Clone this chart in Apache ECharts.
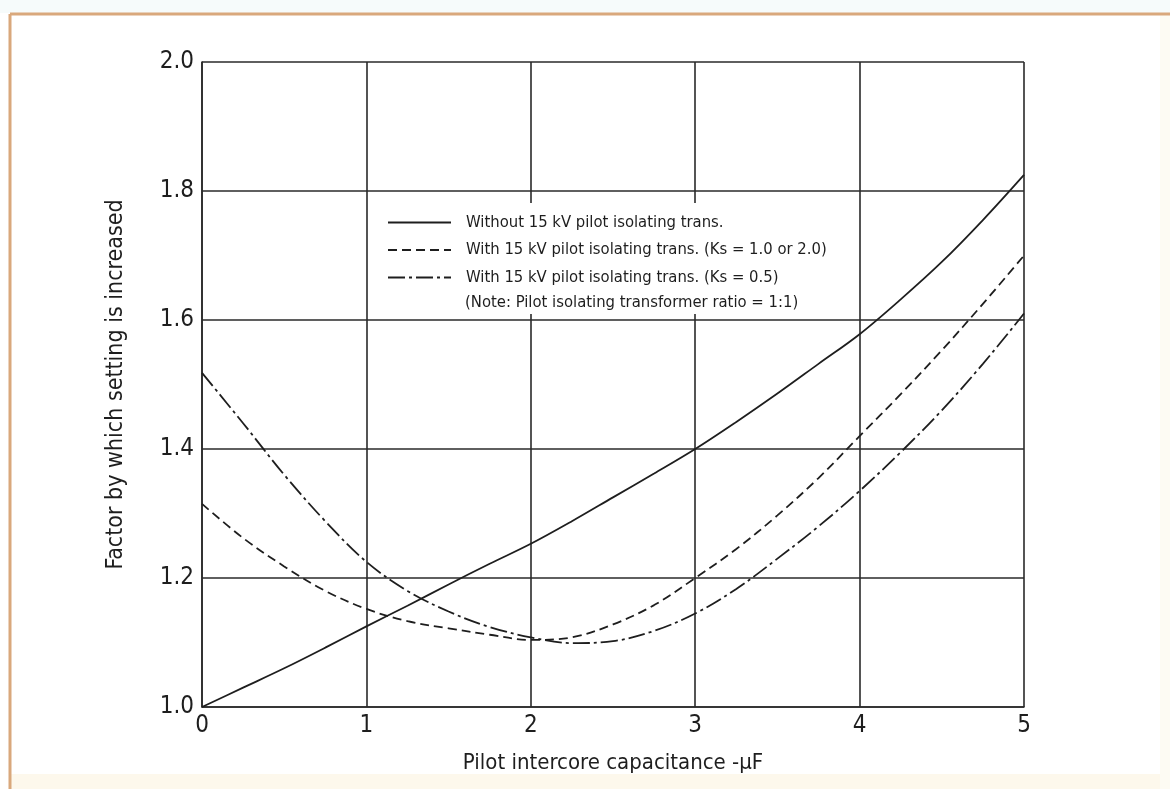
<!DOCTYPE html>
<html>
<head>
<meta charset="utf-8">
<script src="https://cdn.jsdelivr.net/npm/echarts@6/dist/echarts.min.js"></script>
<style>
  html, body { margin: 0; padding: 0; background: #ffffff; }
  #chart { width: 1170px; height: 789px; }
</style>
</head>
<body>
<div id="chart"></div>
<script>
// Pilot intercore capacitance (µF)
const capacitance = [0, 0.25, 0.5, 0.75, 1, 1.25, 1.5, 1.75, 2, 2.25, 2.5, 2.75, 3, 3.25, 3.5, 3.75, 4, 4.25, 4.5, 4.75, 5];

// Factor by which setting is increased
const withoutTrans = [1.000, 1.030, 1.060, 1.092, 1.125, 1.157, 1.190, 1.222, 1.253, 1.288, 1.325, 1.362, 1.400, 1.442, 1.486, 1.532, 1.578, 1.632, 1.690, 1.755, 1.825];
const withTransKs1 = [1.315, 1.262, 1.218, 1.180, 1.152, 1.133, 1.122, 1.112, 1.104, 1.108, 1.128, 1.158, 1.200, 1.245, 1.297, 1.355, 1.420, 1.485, 1.553, 1.625, 1.700];
const withTransKs05 = [1.518, 1.440, 1.360, 1.288, 1.225, 1.180, 1.148, 1.124, 1.108, 1.099, 1.102, 1.118, 1.145, 1.183, 1.230, 1.280, 1.335, 1.395, 1.460, 1.532, 1.610];

const seriesNames = [
  'Without 15 kV pilot isolating trans.',
  'With 15 kV pilot isolating trans. (Ks = 1.0 or 2.0)',
  'With 15 kV pilot isolating trans. (Ks = 0.5)'
];
const noteText = '(Note: Pilot isolating transformer ratio = 1:1)';
const xAxisTitle = 'Pilot intercore capacitance -\u00B5F';
const yAxisTitle = 'Factor by which setting is increased';

const FONT = '"DejaVu Sans Condensed", "Liberation Sans Narrow", "Noto Sans", sans-serif';
const INK = '#1e1e1e';
const GRID = '#2a2a2a';
const LEGEND_FONT = 16.5;

const pairs = (ys) => capacitance.map((x, i) => [x, ys[i]]);

const chart = echarts.init(document.getElementById('chart'), null, { renderer: 'canvas' });

const lineBase = {
  type: 'line',
  smooth: 0.35,
  showSymbol: false,
  symbol: 'none',
  silent: true,
  z: 3
};

chart.setOption({
  animation: false,
  backgroundColor: '#ffffff',
  textStyle: { fontFamily: FONT },
  grid: { left: 202, right: 146, top: 62, bottom: 82, containLabel: false },
  xAxis: {
    type: 'value',
    min: 0, max: 5, interval: 1,
    name: xAxisTitle,
    nameLocation: 'middle',
    nameGap: 45,
    nameTextStyle: { fontFamily: FONT, fontSize: 22, color: INK },
    axisLine: { show: true, lineStyle: { color: GRID, width: 1.6 } },
    axisTick: { show: false },
    axisLabel: { fontFamily: FONT, fontSize: 24, color: INK, margin: 7 },
    splitLine: { show: true, lineStyle: { color: GRID, width: 1.6 } }
  },
  yAxis: {
    type: 'value',
    min: 1, max: 2, interval: 0.2,
    name: yAxisTitle,
    nameLocation: 'middle',
    nameGap: 74,
    nameTextStyle: { fontFamily: FONT, fontSize: 23, color: INK },
    axisLine: { show: true, lineStyle: { color: GRID, width: 1.6 } },
    axisTick: { show: false },
    axisLabel: { fontFamily: FONT, fontSize: 24, color: INK, margin: 8, formatter: (v) => v.toFixed(1) },
    splitLine: { show: true, lineStyle: { color: GRID, width: 1.6 } }
  },
  legend: {
    show: true,
    orient: 'vertical',
    left: 375,
    top: 203,
    padding: [11, 8, 28, 12],
    backgroundColor: '#ffffff',
    itemWidth: 63,
    itemHeight: 14,
    itemGap: 10.5,
    selectedMode: false,
    data: seriesNames,
    itemStyle: { color: 'rgba(0,0,0,0)', borderColor: 'rgba(0,0,0,0)', borderWidth: 0, opacity: 0 },
    textStyle: { fontFamily: FONT, fontSize: LEGEND_FONT, color: INK, padding: [0, 0, 0, 10] }
  },
  series: [
    Object.assign({}, lineBase, {
      name: seriesNames[0],
      data: pairs(withoutTrans),
      itemStyle: { color: INK },
      lineStyle: { color: INK, width: 1.8, type: 'solid' }
    }),
    Object.assign({}, lineBase, {
      name: seriesNames[1],
      data: pairs(withTransKs1),
      itemStyle: { color: INK },
      lineStyle: { color: INK, width: 1.8, type: [9, 5] }
    }),
    Object.assign({}, lineBase, {
      name: seriesNames[2],
      data: pairs(withTransKs05),
      itemStyle: { color: INK },
      lineStyle: { color: INK, width: 1.8, type: [17, 4, 3, 4] }
    })
  ],
  graphic: [
    // light tint outside the frame
    { type: 'rect', z: -20, silent: true, shape: { x: 0, y: 0, width: 1170, height: 13 }, style: { fill: '#f6fbfb' } },
    { type: 'rect', z: -20, silent: true, shape: { x: 11, y: 774, width: 1160, height: 15 }, style: { fill: '#fdf8ec' } },
    { type: 'rect', z: -20, silent: true, shape: { x: 1160, y: 15, width: 10, height: 774 }, style: { fill: '#fdfbf3' } },
    // tan frame along the top and left edges
    { type: 'line', z: 20, silent: true, shape: { x1: 10, y1: 14, x2: 1170, y2: 14 }, style: { stroke: '#d9a87c', lineWidth: 3 } },
    { type: 'line', z: 20, silent: true, shape: { x1: 10, y1: 14, x2: 10, y2: 789 }, style: { stroke: '#d9a87c', lineWidth: 3 } },
    // note line under the legend entries
    {
      type: 'text', z: 50, silent: true,
      left: 465, top: 294,
      style: { text: noteText, font: LEGEND_FONT + 'px ' + FONT, fill: INK }
    }
  ]
});
</script>
</body>
</html>
